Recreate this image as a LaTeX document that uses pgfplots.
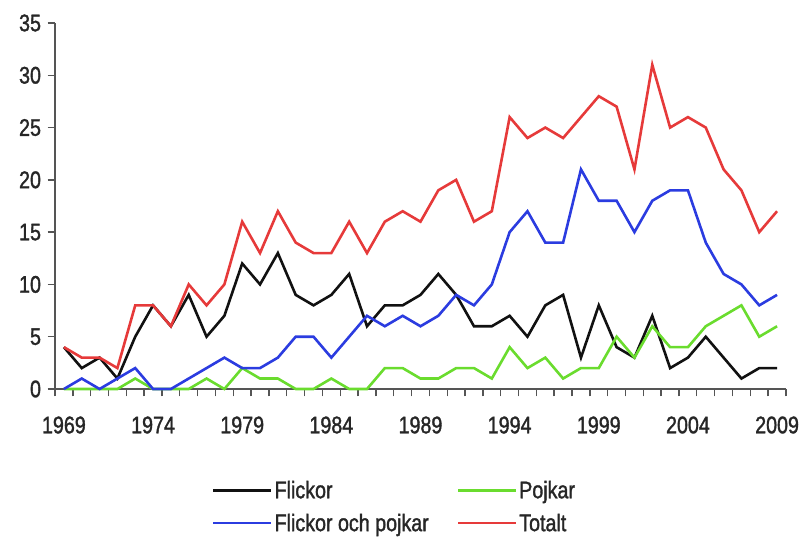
\documentclass[border=0pt]{standalone}
\usepackage{pgfplots}
\pgfplotsset{compat=1.18}
\usepackage{fontspec}
\setmainfont{Liberation Sans}[FakeStretch=0.82, FakeBold=1.4]
\definecolor{cBlack}{HTML}{111111}
\definecolor{cGreen}{HTML}{6ADC2E}
\definecolor{cBlue}{HTML}{2B3CE0}
\definecolor{cRed}{HTML}{E63A3A}
\definecolor{cAxis}{HTML}{555555}
\begin{document}
\begin{tikzpicture}[x=1pt,y=1pt]
\useasboundingbox (-55pt,-156pt) rectangle (748pt,389pt);
\begin{axis}[
  at={(0,0)}, anchor=south west,
  scale only axis, width=731pt, height=366pt,
  xmin=1968.5, xmax=2009.5, ymin=0, ymax=35,
  axis x line*=bottom, axis y line*=left,
  axis line style={cAxis, line width=1.6pt},
  xtick={1968.5,1969.5,...,2009.5},
  xticklabels={},
  extra x ticks={1969,1974,...,2009},
  extra x tick style={major tick length=0pt, tick style={draw=none}},
  ytick={0,5,...,35},
  tick align=outside,
  major tick length=7.5pt,
  tick style={cAxis, line width=1.4pt},
  /pgf/number format/assume math mode=true,
  /pgf/number format/1000 sep={},
  tick label style={font=\fontsize{24}{24}\selectfont, text=black!85},
  extra x tick labels={1969,1974,1979,1984,1989,1994,1999,2004,2009},
  x tick label style={yshift=-24pt},
  y tick label style={xshift=-3pt},
  clip=false,
  legend columns=2,
  legend cell align=left,
  legend style={draw=none, fill=none, at={(0.2148,-0.245)}, anchor=north west,
    font=\fontsize{24}{24}\selectfont, text=black!85, inner sep=0pt,
    /tikz/every even column/.append style={column sep=26pt},
    row sep=10pt},
  legend image code/.code={\draw[#1, line width=2.4pt] (0pt,0pt) -- (58pt,0pt);},
  every axis plot/.append style={line width=2.6pt, line join=miter, mark=none},
]
\addplot[cBlack] coordinates {
(1969,4)(1970,2)(1971,3)(1972,1)(1973,5)(1974,8)(1975,6)(1976,9)(1977,5)(1978,7)
(1979,12)(1980,10)(1981,13)(1982,9)(1983,8)(1984,9)(1985,11)(1986,6)(1987,8)(1988,8)
(1989,9)(1990,11)(1991,9)(1992,6)(1993,6)(1994,7)(1995,5)(1996,8)(1997,9)(1998,3)
(1999,8)(2000,4)(2001,3)(2002,7)(2003,2)(2004,3)(2005,5)(2006,3)(2007,1)(2008,2)(2009,2)};
\addlegendentry{Flickor}
\addplot[cGreen] coordinates {
(1969,0)(1970,0)(1971,0)(1972,0)(1973,1)(1974,0)(1975,0)(1976,0)(1977,1)(1978,0)
(1979,2)(1980,1)(1981,1)(1982,0)(1983,0)(1984,1)(1985,0)(1986,0)(1987,2)(1988,2)
(1989,1)(1990,1)(1991,2)(1992,2)(1993,1)(1994,4)(1995,2)(1996,3)(1997,1)(1998,2)
(1999,2)(2000,5)(2001,3)(2002,6)(2003,4)(2004,4)(2005,6)(2006,7)(2007,8)(2008,5)(2009,6)};
\addlegendentry{Pojkar}
\addplot[cBlue] coordinates {
(1969,0)(1970,1)(1971,0)(1972,1)(1973,2)(1974,0)(1975,0)(1976,1)(1977,2)(1978,3)
(1979,2)(1980,2)(1981,3)(1982,5)(1983,5)(1984,3)(1985,5)(1986,7)(1987,6)(1988,7)
(1989,6)(1990,7)(1991,9)(1992,8)(1993,10)(1994,15)(1995,17)(1996,14)(1997,14)(1998,21)
(1999,18)(2000,18)(2001,15)(2002,18)(2003,19)(2004,19)(2005,14)(2006,11)(2007,10)(2008,8)(2009,9)};
\addlegendentry{Flickor och pojkar}
\addplot[cRed] coordinates {
(1969,4)(1970,3)(1971,3)(1972,2)(1973,8)(1974,8)(1975,6)(1976,10)(1977,8)(1978,10)
(1979,16)(1980,13)(1981,17)(1982,14)(1983,13)(1984,13)(1985,16)(1986,13)(1987,16)(1988,17)
(1989,16)(1990,19)(1991,20)(1992,16)(1993,17)(1994,26)(1995,24)(1996,25)(1997,24)(1998,26)
(1999,28)(2000,27)(2001,21)(2002,31)(2003,25)(2004,26)(2005,25)(2006,21)(2007,19)(2008,15)(2009,17)};
\addlegendentry{Totalt}
\end{axis}
\end{tikzpicture}
\end{document}
